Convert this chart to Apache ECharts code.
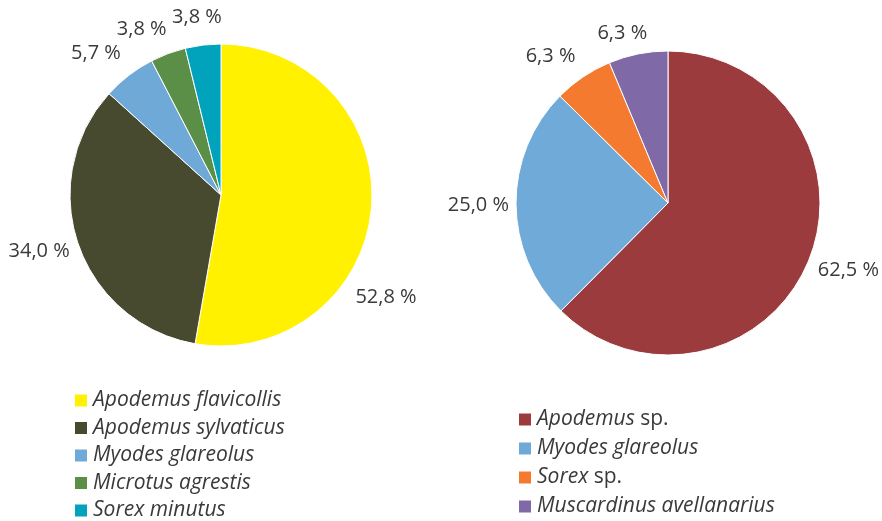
<!DOCTYPE html>
<html>
<head>
<meta charset="utf-8">
<script src="https://cdn.jsdelivr.net/npm/echarts@6/dist/echarts.min.js"></script>
<style>
html,body{margin:0;padding:0;background:#fff;}
#chart{width:882px;height:521px;}
</style>
</head>
<body>
<div id="chart"></div>
<script>
// ---- data ----
const leftCategories = ['Apodemus flavicollis', 'Apodemus sylvaticus', 'Myodes glareolus', 'Microtus agrestis', 'Sorex minutus'];
const leftValues = [52.8, 34.0, 5.7, 3.8, 3.8];
const rightCategories = ['Apodemus sp.', 'Myodes glareolus', 'Sorex sp.', 'Muscardinus avellanarius'];
const rightValues = [62.5, 25.0, 6.3, 6.3];

// ---- styles ----
const leftColors = ['#FFF100', '#474A2E', '#6FA9D7', '#5B8F48', '#00A2BC'];
const rightColors = ['#9B3B3E', '#6FAAD8', '#F47A30', '#7F69A6'];
const leftLabelShift = [[-31, 88], [6, 4], [3, -14], [7, -15], [25, -18]];
const rightLabelShift = [[-5, 6], [8, 2], [3, -12], [16, -11]];
const FONT = '"Open Sans", "Noto Sans", sans-serif';
const TXT = '#3a3a3a';

function fmt(v) { return v.toFixed(1).replace('.', ',') + ' %'; }
function legendName(name) {
  if (name.endsWith(' sp.')) {
    return '{i|' + name.slice(0, -4) + '} {n|sp.}';
  }
  return '{i|' + name + '}';
}
function makeData(cats, vals, colors) {
  return cats.map((c, i) => ({ name: c, value: vals[i], itemStyle: { color: colors[i] } }));
}
const richStyle = {
  i: { fontStyle: 'italic', fontSize: 21, fontFamily: FONT, color: TXT },
  n: { fontStyle: 'normal', fontSize: 21, fontFamily: FONT, color: TXT }
};

function pieSeries(data, center, radius, shifts) {
  return {
    type: 'pie',
    center: center,
    radius: radius,
    startAngle: 90,
    clockwise: true,
    avoidLabelOverlap: false,
    animation: false,
    data: data,
    itemStyle: { borderColor: '#ffffff', borderWidth: 1 },
    label: {
      show: true,
      position: 'outside',
      formatter: p => fmt(p.value),
      fontFamily: FONT,
      fontSize: 20,
      color: TXT
    },
    labelLine: { show: false, length: 10, length2: 0 },
    labelLayout: params => ({ dx: shifts[params.dataIndex][0], dy: shifts[params.dataIndex][1] }),
    emphasis: { disabled: true }
  };
}

const chart = echarts.init(document.getElementById('chart'), null, { renderer: 'canvas' });
chart.setOption({
  animation: false,
  backgroundColor: '#ffffff',
  legend: [
    {
      orient: 'vertical',
      left: 73,
      top: 390,
      height: 200,
      padding: 0,
      itemWidth: 14,
      itemHeight: 14,
      itemGap: 6.5,
      icon: 'rect',
      data: leftCategories,
      formatter: legendName,
      textStyle: { rich: richStyle, fontSize: 21, fontFamily: FONT, color: TXT },
      selectedMode: false
    },
    {
      orient: 'vertical',
      left: 517,
      top: 409,
      height: 200,
      padding: 0,
      itemWidth: 14,
      itemHeight: 14,
      itemGap: 8,
      icon: 'rect',
      data: rightCategories,
      formatter: legendName,
      textStyle: { rich: richStyle, fontSize: 21, fontFamily: FONT, color: TXT },
      selectedMode: false
    }
  ],
  series: [
    pieSeries(makeData(leftCategories, leftValues, leftColors), [221, 195], 151, leftLabelShift),
    pieSeries(makeData(rightCategories, rightValues, rightColors), [668, 203], 152, rightLabelShift)
  ]
});
</script>
</body>
</html>
